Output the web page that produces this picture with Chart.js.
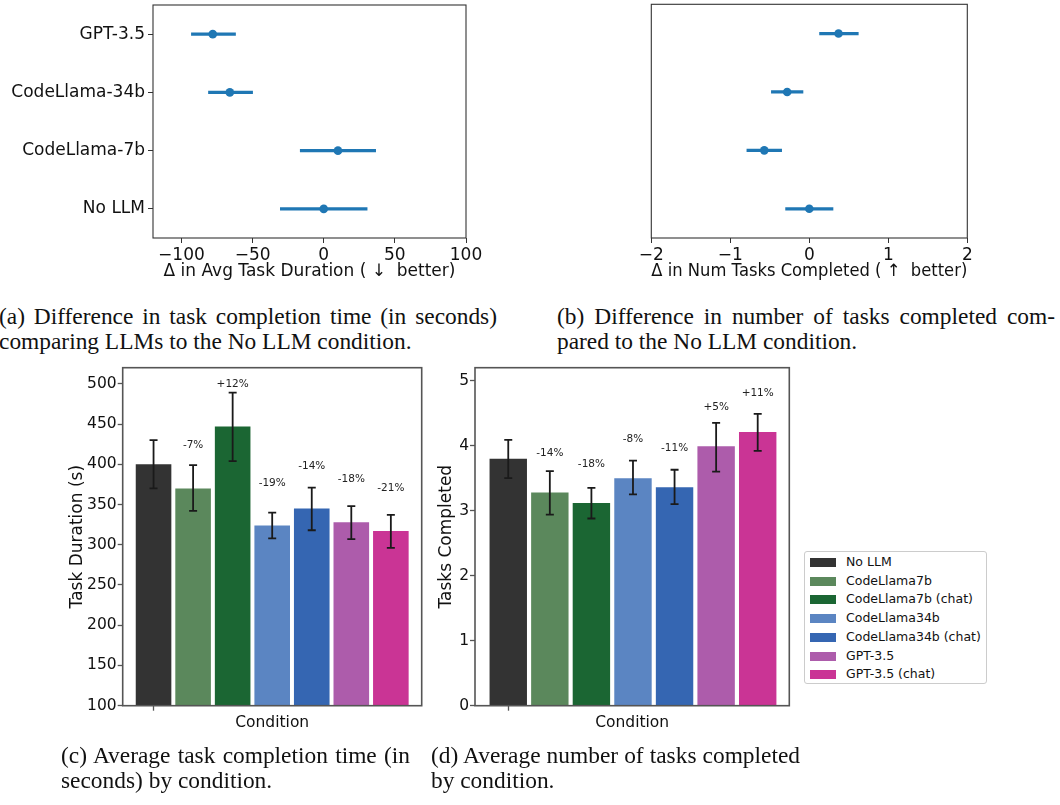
<!DOCTYPE html>
<html>
<head>
<meta charset="utf-8">
<script src="https://cdn.jsdelivr.net/npm/chart.js@4.4.0/dist/chart.umd.min.js"></script>
<style>
  body { margin: 0; background: #fff; width: 1060px; height: 805px; position: relative; overflow: hidden; }
  canvas { position: absolute; }
  .cap { position: absolute; font-family: 'Liberation Serif', serif; font-size: 23.4px; line-height: 25px; color: #111; white-space: nowrap; }
  .cap .j { text-align: justify; text-align-last: justify; }
  #legend { position: absolute; left: 804px; top: 551px; width: 181px; height: 131px; border: 1px solid #ccc; border-radius: 3px; background: #fff; font-family: 'DejaVu Sans'; font-size: 12.5px; color: #111; }
  #legend div { position: absolute; left: 5px; height: 18.5px; line-height: 18.5px; white-space: nowrap; }
  #legend span { display: inline-block; width: 26px; height: 9px; margin-right: 10px; vertical-align: -1px; }
</style>
</head>
<body>
<canvas id="chartA" width="520" height="290" style="left:0;top:0"></canvas>
<canvas id="chartB" width="500" height="290" style="left:560px;top:0"></canvas>
<canvas id="chartC" width="430" height="380" style="left:0;top:365px"></canvas>
<canvas id="chartD" width="370" height="380" style="left:430px;top:365px"></canvas>
<div id="legend"></div>

<div class="cap" style="left:-1px;top:303.6px">
  <div class="j" style="width:498px">(a) Difference in task completion time (in seconds)</div>
  <div>comparing LLMs to the No LLM condition.</div>
</div>
<div class="cap" style="left:557px;top:303.6px">
  <div class="j" style="width:498px">(b) Difference in number of tasks completed com-</div>
  <div>pared to the No LLM condition.</div>
</div>
<div class="cap" style="left:61px;top:742.6px">
  <div class="j" style="width:349px">(c) Average task completion time (in</div>
  <div>seconds) by condition.</div>
</div>
<div class="cap" style="left:431px;top:742.6px">
  <div class="j" style="width:369px">(d) Average number of tasks completed</div>
  <div>by condition.</div>
</div>

<script>
// (a) and (b): difference vs. No LLM, with 95% intervals
const models = ['GPT-3.5', 'CodeLlama-34b', 'CodeLlama-7b', 'No LLM'];
const durDiff = [-78, -66, 10, 0];
const durDiffLow = [-93, -81, -16.5, -30.5];
const durDiffHigh = [-62, -50, 36.5, 30.5];
const durDiffTicks = [-100, -50, 0, 50, 100];
const taskDiff = [0.37, -0.28, -0.57, 0];
const taskDiffLow = [0.13, -0.48, -0.79, -0.3];
const taskDiffHigh = [0.62, -0.08, -0.35, 0.3];
const taskDiffTicks = [-2, -1, 0, 1, 2];

// (c) and (d): averages by condition
const conditions = ['No LLM', 'CodeLlama7b', 'CodeLlama7b (chat)', 'CodeLlama34b', 'CodeLlama34b (chat)', 'GPT-3.5', 'GPT-3.5 (chat)'];
const colors = ['#333333', '#5b885c', '#1b6633', '#5b85c2', '#3566b2', '#ad5cab', '#ca3495'];
const duration = [400, 370, 447, 324, 345, 328, 317];
const durationLow = [370, 342, 404, 308, 318, 307, 296];
const durationHigh = [430, 399, 489, 340, 371, 348, 337];
const durationPct = ['', '-7%', '+12%', '-19%', '-14%', '-18%', '-21%'];
const durationTicks = [100, 150, 200, 250, 300, 350, 400, 450, 500];
const tasks = [3.80, 3.28, 3.12, 3.50, 3.36, 3.99, 4.21];
const tasksLow = [3.50, 2.94, 2.88, 3.25, 3.10, 3.60, 3.92];
const tasksHigh = [4.09, 3.61, 3.35, 3.77, 3.63, 4.35, 4.49];
const tasksPct = ['', '-14%', '-18%', '-8%', '-11%', '+5%', '+11%'];
const tasksTicks = [0, 1, 2, 3, 4, 5];

const FONT = 'DejaVu Sans';
const BLUE = '#1f77b4';
const minus = v => String(v).replace('-', '\u2212');
const useTicks = list => s => { s.ticks = list.map(v => ({ value: v })); };
// fixed axis sizes, and no extra room for the outer tick labels
const fixWidth = w => s => { s.width = w; s.paddingTop = 0; s.paddingBottom = 0; };
const fixHeight = h => s => { s.height = h; s.paddingLeft = 0; s.paddingRight = 0; };

// box around the plot area, like matplotlib spines
const frame = {
  id: 'frame',
  afterDraw(chart, args, opts) {
    const { ctx, chartArea: r } = chart;
    ctx.save();
    ctx.strokeStyle = opts.color;
    ctx.lineWidth = opts.width;
    ctx.strokeRect(r.left, r.top, r.right - r.left, r.bottom - r.top);
    ctx.restore();
  }
};

// error bars with caps + percentage labels above the bars
const barExtras = {
  id: 'barExtras',
  afterDatasetsDraw(chart, args, opts) {
    const { ctx } = chart;
    const y = chart.scales.y;
    const bars = chart.getDatasetMeta(0).data;
    ctx.save();
    ctx.strokeStyle = '#1a1a1a';
    ctx.lineWidth = 1.8;
    bars.forEach((bar, i) => {
      const top = y.getPixelForValue(opts.high[i]);
      const bot = y.getPixelForValue(opts.low[i]);
      ctx.beginPath();
      ctx.moveTo(bar.x, top); ctx.lineTo(bar.x, bot);
      ctx.moveTo(bar.x - 4, top); ctx.lineTo(bar.x + 4, top);
      ctx.moveTo(bar.x - 4, bot); ctx.lineTo(bar.x + 4, bot);
      ctx.stroke();
    });
    ctx.fillStyle = '#222';
    ctx.font = '10.5px ' + FONT;
    ctx.textAlign = 'center';
    ctx.textBaseline = 'middle';
    bars.forEach((bar, i) => {
      if (!opts.labels[i]) return;
      ctx.fillText(opts.labels[i], bar.x, y.getPixelForValue(opts.values[i] + opts.offset));
    });
    ctx.restore();
  }
};

function forestChart(id, mid, low, high, xOpts, yOpts, pad, title) {
  new Chart(document.getElementById(id), {
    type: 'bar',
    data: {
      labels: models,
      datasets: [
        { type: 'bar', data: models.map((m, i) => [low[i], high[i]]), backgroundColor: BLUE,
          barThickness: 2.6, borderSkipped: false, borderWidth: 0, order: 2 },
        { type: 'line', data: mid, showLine: false, pointRadius: 4.3, pointBorderWidth: 0,
          pointBackgroundColor: BLUE, order: 1 }
      ]
    },
    options: {
      indexAxis: 'y',
      responsive: false,
      animation: false,
      layout: { padding: pad },
      plugins: { legend: { display: false }, tooltip: { enabled: false }, frame: { color: '#333', width: 1.1 } },
      scales: {
        x: Object.assign({
          type: 'linear',
          border: { display: false },
          grid: { drawOnChartArea: false, tickLength: 5, tickColor: '#333', tickWidth: 1 },
          ticks: { font: { family: FONT, size: 17 }, color: '#111', padding: 2, maxRotation: 0, autoSkip: false, callback: v => minus(v) },
          title: { display: true, text: title, font: { family: FONT, size: 17 }, color: '#111', padding: { top: 0, bottom: 8.4 } },
          afterFit: fixHeight(52)
        }, xOpts),
        y: Object.assign({
          border: { display: false },
          grid: { drawOnChartArea: false, tickLength: 5, tickColor: '#333', tickWidth: 1, offset: false },
          ticks: { font: { family: FONT, size: 17 }, color: '#111', padding: 3 }
        }, yOpts)
      }
    },
    plugins: [frame]
  });
}

forestChart('chartA', durDiff, durDiffLow, durDiffHigh,
  { min: -120, max: 100, afterBuildTicks: useTicks(durDiffTicks) },
  { afterFit: fixWidth(153) },
  { top: 5, right: 54, left: 0, bottom: 0 },
  '\u0394 in Avg Task Duration ( \u2193  better)');

forestChart('chartB', taskDiff, taskDiffLow, taskDiffHigh,
  { min: -2, max: 2, afterBuildTicks: useTicks(taskDiffTicks) },
  { ticks: { display: false }, grid: { display: false }, afterFit: fixWidth(91.3) },
  { top: 2, right: 92.7, left: 0, bottom: 0 },
  '\u0394 in Num Tasks Completed ( \u2191  better)');

function barChart(id, values, low, high, pct, labelOffset, yOpts, xRange, pad, yLabel, yTitlePad) {
  new Chart(document.getElementById(id), {
    type: 'bar',
    data: {
      datasets: [{
        data: conditions.map((c, i) => ({ x: i, y: values[i] })),
        backgroundColor: colors,
        borderWidth: 0,
        barPercentage: 0.9,
        categoryPercentage: 1
      }]
    },
    options: {
      responsive: false,
      animation: false,
      layout: { padding: pad },
      plugins: {
        legend: { display: false }, tooltip: { enabled: false },
        frame: { color: '#555', width: 1.6 },
        barExtras: { values: values, low: low, high: high, labels: pct, offset: labelOffset }
      },
      scales: {
        x: {
          type: 'linear', min: xRange[0], max: xRange[1], offset: false,
          border: { display: false },
          grid: { drawOnChartArea: false, offset: false, tickLength: 5, tickColor: '#555', tickWidth: 1.3 },
          ticks: { callback: () => '' },
          afterBuildTicks: useTicks([0]),
          title: { display: true, text: 'Condition', font: { family: FONT, size: 15.5 }, color: '#111', padding: { top: 0, bottom: 12.7 } },
          afterFit: fixHeight(39.3)
        },
        y: Object.assign({
          border: { display: false },
          grid: { drawOnChartArea: false, tickLength: 5, tickColor: '#555', tickWidth: 1.3 },
          title: { display: true, text: yLabel, font: { family: FONT, size: 17 }, color: '#111', padding: { top: yTitlePad, bottom: 0 } }
        }, yOpts)
      }
    },
    plugins: [frame, barExtras]
  });
}

barChart('chartC', duration, durationLow, durationHigh, durationPct, 53,
  { min: 100, max: 520,
    ticks: { font: { family: FONT, size: 15.5 }, color: '#111', padding: 1 },
    afterBuildTicks: useTicks(durationTicks),
    afterFit: fixWidth(122.7) },
  [-0.78, 6.78], { top: 2.7, right: 8.3, left: 0, bottom: 0 }, 'Task Duration (s)', 67.1);

barChart('chartD', tasks, tasksLow, tasksHigh, tasksPct, 0.6,
  { min: 0, max: 5.2,
    ticks: { font: { family: FONT, size: 15.5 }, color: '#111', padding: 1 },
    afterBuildTicks: useTicks(tasksTicks),
    afterFit: fixWidth(45) },
  [-0.8, 6.76], { top: 2.7, right: 10.7, left: 0, bottom: 0 }, 'Tasks Completed', 6.5);

// legend for the bar colours
const legend = document.getElementById('legend');
conditions.forEach((c, i) => {
  const row = document.createElement('div');
  row.style.top = (1 + i * 18.7) + 'px';
  row.innerHTML = '<span style="background:' + colors[i] + '"></span>' + c;
  legend.appendChild(row);
});
</script>
</body>
</html>
